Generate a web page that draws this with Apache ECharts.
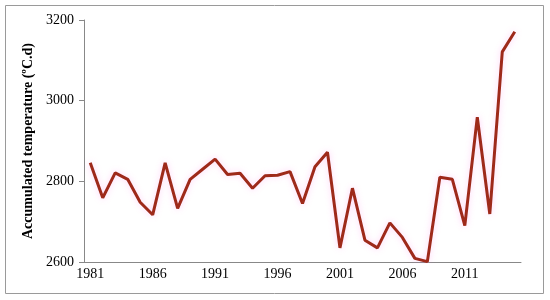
<!DOCTYPE html>
<html>
<head>
<meta charset="utf-8">
<script src="https://cdn.jsdelivr.net/npm/echarts@6/dist/echarts.min.js"></script>
<style>
  html, body { margin: 0; padding: 0; background: #fff; }
  #main { width: 550px; height: 300px; }
</style>
</head>
<body>
<div id="main"></div>
<script>
var years = [];
for (var y = 1981; y <= 2015; y++) years.push(String(y));

var temps = [2846, 2759, 2821, 2805, 2748, 2717, 2846, 2733, 2805, 2830,
             2855, 2817, 2820, 2783, 2814, 2815, 2824, 2745, 2836, 2872,
             2635, 2783, 2654, 2635, 2697, 2661, 2609, 2601, 2810, 2805,
             2690, 2959, 2719, 3121, 3171];

var myChart = echarts.init(document.getElementById('main'));
var option = {
  animation: false,
  graphic: [
    {
      type: 'rect',
      shape: { x: 5.5, y: 5.5, width: 538, height: 288 },
      style: { fill: 'none', stroke: '#9a9a9a', lineWidth: 1 }
    }
  ],
  grid: {
    left: 84,
    right: 29,
    top: 20,
    bottom: 38
  },
  xAxis: {
    type: 'category',
    data: years,
    boundaryGap: true,
    axisLine: { lineStyle: { color: '#888', width: 1 } },
    axisTick: { interval: 4, length: 5, lineStyle: { color: '#888' } },
    axisLabel: {
      interval: 4,
      color: '#000',
      fontFamily: 'Liberation Serif',
      fontSize: 14,
      margin: 5
    },
    splitLine: { show: false }
  },
  yAxis: {
    type: 'value',
    min: 2600,
    max: 3200,
    interval: 200,
    name: 'Accumulated temperature (ºC.d)',
    nameLocation: 'middle',
    nameGap: 37,
    nameTextStyle: {
      color: '#000',
      fontFamily: 'Liberation Serif',
      fontWeight: 'bold',
      fontSize: 14
    },
    axisLine: { show: true, lineStyle: { color: '#888', width: 1 } },
    axisTick: { show: true, length: 5, lineStyle: { color: '#888' } },
    axisLabel: {
      color: '#000',
      fontFamily: 'Liberation Serif',
      fontSize: 14,
      margin: 10,
      formatter: function (v) { return String(v); }
    },
    splitLine: { show: false }
  },
  series: [
    {
      type: 'line',
      data: temps,
      symbol: 'none',
      lineStyle: {
        color: '#9e2a1a',
        width: 3,
        shadowColor: 'rgba(255, 120, 230, 0.35)',
        shadowBlur: 6
      }
    }
  ]
};
myChart.setOption(option);
</script>
</body>
</html>
